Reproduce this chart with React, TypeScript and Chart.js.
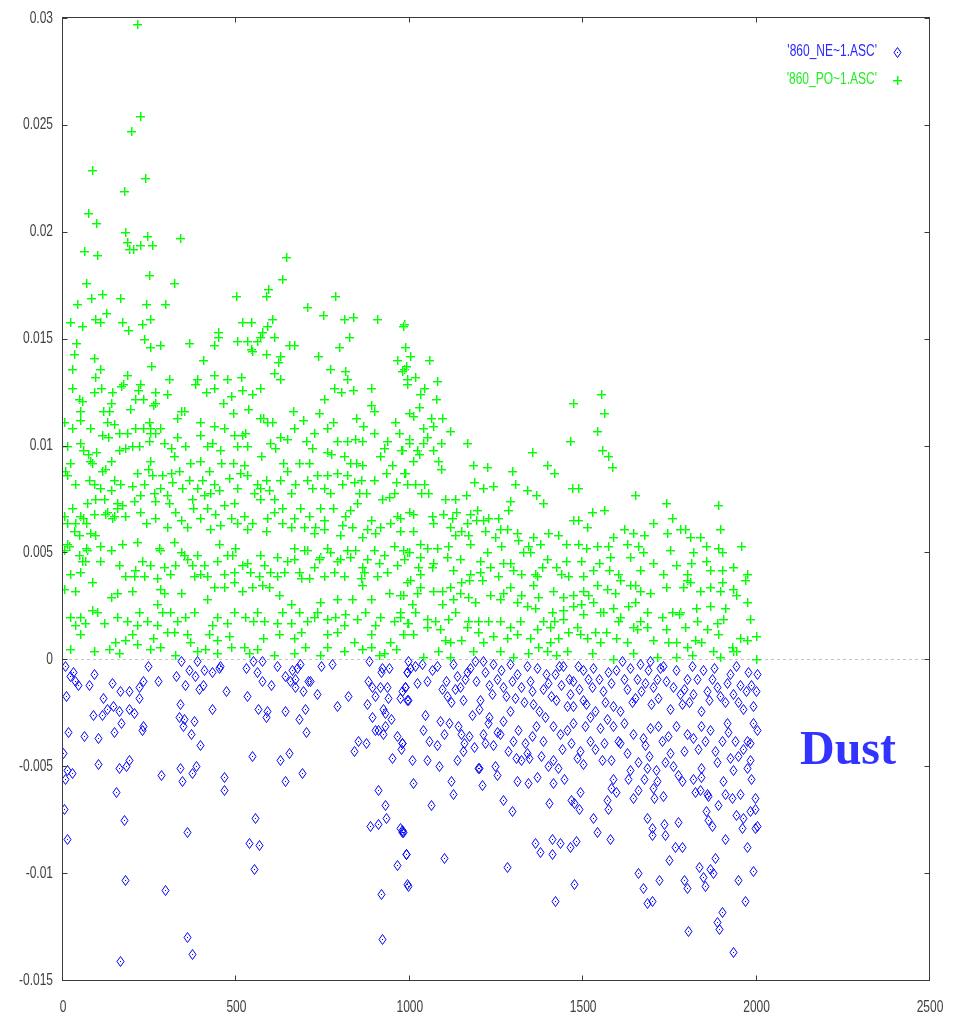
import React, { useEffect, useRef } from "react";
import { Chart, registerables } from "chart.js";

Chart.register(...registerables);

const xTicks = [0, 500, 1000, 1500, 2000, 2500];
const yTicks = [-0.015, -0.01, -0.005, 0, 0.005, 0.01, 0.015, 0.02, 0.025, 0.03];
const seriesLabels = ["'860_NE~1.ASC'", "'860_PO~1.ASC'"];
const noteText = "Dust";

// Each pair is [x, value × 1000]
const posPoints: number[][] = [
  [212,29.7],[223,25.4],[196,24.7],[84,22.9],[175,21.9],[236,22.5],[73,20.9],[96,20.4],[178,20.0],[185,19.5],[241,19.8],[60,19.1],[98,18.9],[189,19.2],[202,19.2],[223,19.4],[258,19.4],[337,19.7],[248,18.0],[321,17.6],[66,17.6],[80,16.9],[41,16.6],[112,17.1],[124,16.2],[163,16.9],[240,16.6],[293,16.6],[169,15.8],[19,15.8],[56,15.6],[92,15.9],[108,15.8],[187,15.4],[228,15.7],[250,15.9],[235,15.0],[37,14.8],[252,14.6],[279,14.7],[362,14.8],[31,14.3],[88,14.1],[25,13.6],[108,13.6],[254,13.7],[92,13.2],[185,13.3],[403,14.0],[500,17.0],[584,17.0],[590,17.3],[644,18.8],[631,17.8],[783,17.0],[705,16.5],[749,16.1],[517,15.8],[542,15.8],[602,15.9],[811,15.9],[835,16.0],[904,15.9],[983,15.7],[447,15.3],[587,15.6],[574,15.3],[608,15.1],[825,15.1],[448,15.1],[502,14.9],[531,14.9],[558,14.9],[567,15.1],[652,14.7],[665,14.7],[796,14.6],[436,14.7],[542,14.5],[987,14.6],[586,14.3],[625,14.2],[735,14.2],[619,13.9],[607,13.4],[625,13.1],[769,13.6],[814,13.5],[820,13.1],[963,14.0],[983,13.6],[993,13.1],[544,14.4],[306,13.1],[172,12.9],[385,13.1],[472,13.1],[514,13.2],[435,13.3],[380,12.9],[110,12.7],[88,12.5],[26,12.7],[45,12.2],[141,12.5],[166,12.8],[215,12.6],[221,12.9],[232,12.2],[266,12.5],[300,12.4],[412,12.5],[436,12.7],[483,12.3],[516,12.6],[546,12.4],[569,12.7],[781,12.7],[803,12.5],[835,12.6],[887,12.7],[754,12.2],[889,11.9],[896,11.6],[50,11.6],[4,11.1],[50,11.2],[127,11.1],[134,11.6],[194,11.7],[209,12.2],[247,11.1],[259,11.9],[115,11.6],[348,11.6],[396,11.1],[461,12.0],[489,11.5],[517,10.5],[534,11.7],[577,11.3],[603,11.1],[663,11.6],[692,11.2],[737,11.5],[779,11.1],[845,11.3],[864,10.9],[956,11.1],[969,10.6],[997,11.5],[997,10.3],[569,11.3],[587,11.1],[435,10.9],[463,10.8],[492,10.5],[526,10.6],[185,10.6],[112,10.5],[130,10.4],[250,10.6],[266,10.6],[341,11.6],[329,11.3],
  [55,12.1],[137,12.0],[264,12.0],[231,10.8],[252,10.8],[248,10.2],
  [26,10.8],[11,10.0],[79,10.8],[146,11.0],[161,10.6],[209,10.8],[281,10.8],[290,10.1],[329,10.4],[353,10.0],[396,10.5],[415,10.0],[502,10.0],[531,10.0],[627,10.4],[665,10.8],[723,10.6],[761,10.8],[819,10.2],[862,10.2],[896,10.6],[935,10.2],
  [50,10.1],[59,9.8],[79,9.3],[96,9.7],[137,9.3],[161,9.8],[180,9.9],[199,10.0],[218,10.0],[252,9.3],[310,9.9],[319,9.5],[367,9.2],[394,9.3],[430,10.1],[452,9.8],[456,9.2],[489,9.2],[521,9.1],[572,9.5],[598,10.1],[612,9.9],[635,9.2],[646,10.3],[680,9.2],[702,10.2],[718,9.9],[709,9.2],[761,9.7],[773,9.6],[790,10.2],[811,9.5],[829,9.2],[846,9.2],[843,10.3],[863,9.1],[927,9.9],[915,9.5],[975,9.8],[71,9.6],[85,9.2],
  [7,8.8],[12,8.6],[74,8.4],[122,8.9],[146,8.4],[165,8.2],[199,8.1],[244,8.9],[286,8.6],[310,8.7],[343,8.0],[372,7.5],[401,8.4],[420,8.8],[435,8.2],[478,8.5],[511,8.7],[550,7.8],[560,8.2],[584,8.4],[608,7.5],[646,8.8],[670,8.2],[718,8.0],[733,8.6],[761,8.6],[771,7.8],[790,8.7],[819,8.6],[838,8.3],[858,8.4],[875,7.8],[930,8.7],[949,9.1],[959,8.3],[983,8.7],
  [21,9.2],[35,8.2],[88,8.2],[108,8.0],[112,8.8],[137,7.9],[213,8.7],[233,8.2],[257,8.6],[281,8.0],[314,8.3],[334,8.8],[362,8.4],[386,8.0],[425,7.8],[449,7.9],[502,8.0],[531,8.6],[569,8.0],[593,7.9],[627,8.4],[656,7.8],[704,8.4],[752,8.0],[805,8.2],[853,7.8],[896,8.4],[954,7.8],[992,8.2],
  [26,7.1],[50,6.7],[59,6.6],[11,6.4],[35,6.4],[93,7.5],[117,7.5],[127,6.9],[141,6.6],[156,7.1],[204,7.4],[223,7.7],[262,7.8],[266,7.4],[300,7.7],[305,7.3],[375,7.1],[406,7.7],[415,7.1],[439,6.8],[463,7.2],[492,7.3],[502,6.4],[521,6.7],[545,6.4],[569,7.5],[589,6.6],[608,6.9],[632,7.1],[656,6.2],[684,7.1],[709,6.7],[728,6.2],[742,7.1],[754,6.5],[779,7.1],[805,6.3],[814,6.7],[829,7.0],[848,7.3],[863,5.7],[887,6.5],[901,5.9],[920,7.5],[940,7.6],[963,6.7],[997,6.9],
  [156,7.3],[146,6.7],[170,7.2],[122,6.8],[88,6.8],[69,7.3],[2,6.7],[67,6.4],[180,6.7],[223,6.9],[238,6.4],[266,6.6],[300,6.2],[324,6.9],[339,6.5],[358,6.2],[396,6.6],[425,6.1],[454,6.3],[483,6.6],[531,6.1],[584,6.0],[632,6.4],[665,6.6],[694,6.2],[723,5.9],[752,6.1],[800,5.8],[834,6.2],[877,6.1],[915,6.2],[944,6.4],[973,6.0],
  [2,5.1],[16,5.3],[45,4.9],[69,5.1],[64,4.6],[108,5.3],[137,5.1],[170,5.4],[213,5.5],[281,5.1],[319,5.5],[339,5.0],[358,4.7],[386,4.9],[406,4.4],[449,5.4],[473,4.9],[497,5.2],[531,4.5],[579,4.4],[617,4.8],[646,4.6],[665,5.2],[704,5.1],[742,4.8],[771,5.0],[790,4.6],[829,4.8],[863,4.3],[896,5.1],[925,4.9],[954,5.3],[992,5.0],
  [11,5.4],[31,6.0],[45,5.8],[79,5.9],[93,5.8],[55,4.6],[50,4.1],[66,5.2],[108,4.6],[161,4.4],[180,3.9],[209,4.2],[228,4.6],[252,4.4],[276,5.2],[290,4.3],[309,4.0],[324,4.4],[348,4.9],[372,4.4],[396,4.0],[415,3.9],[444,4.6],[463,4.0],[488,4.9],[492,4.1],[516,4.4],[540,4.1],[564,3.9],[569,4.9],[598,4.1],[617,3.9],[637,4.1],[665,4.7],[680,4.1],[694,5.1],[723,4.3],[737,4.7],[761,5.2],[781,4.1],[800,4.7],[819,5.1],[843,5.1],[858,3.8],[877,4.7],[910,4.5],[935,4.1],[963,4.4],[983,4.7],
  [2,3.3],[35,3.2],[21,4.0],[83,3.6],[137,2.9],[156,3.1],[199,3.2],[204,3.9],[233,3.9],[271,3.8],[281,3.3],[290,3.1],[271,2.6],[339,3.1],[377,3.9],[415,2.8],[435,3.4],[463,3.4],[492,3.6],[516,3.2],[545,3.4],[574,3.5],[593,3.4],[622,3.0],[656,2.6],[685,3.8],[709,3.8],[742,2.7],[752,3.9],[790,2.8],[810,3.9],[834,2.8],[863,3.5],[867,4.1],[887,2.8],[906,3.9],[940,3.1],[973,3.0],[992,3.6],
  [19,2.0],[35,1.6],[64,1.7],[84,2.3],[117,1.7],[50,1.2],[19,0.5],[132,0.5],[151,0.8],[180,0.9],[185,1.8],[213,1.6],[199,1.2],[260,1.0],[271,1.6],[300,1.3],[329,1.8],[319,1.3],[358,1.2],[367,0.8],[324,0.2],[386,0.4],[410,0.5],[420,1.2],[430,1.6],[444,0.3],[473,1.7],[478,1.1],[483,0.6],[536,0.3],[548,1.8],[577,1.0],[608,0.2],[622,1.2],[632,2.2],[656,1.7],[665,1.0],[685,1.3],[699,0.6],[704,1.8],[733,2.2],[760,1.2],[742,0.2],[790,1.3],[814,2.1],[838,0.8],[863,0.5],[872,2.2],[887,1.2],[901,1.6],[910,0.2],[944,0.8],[959,0.5],[973,2.0],[983,1.2],[992,1.7],
  [50,2.0],[98,2.2],[156,2.0],[218,2.2],[242,1.8],[286,2.2],[309,2.2],[353,2.0],[377,2.2],[444,2.0],[492,2.2],[526,2.0],[560,2.2],[579,1.8],[617,1.7],[680,2.2],[723,2.0],[761,1.9],[785,2.0],[810,1.6],[848,1.9],[915,2.0],[954,1.8],[88,0.4],[161,0.3],[213,0.7],[252,0.5],[281,0.6],[444,0.9],[521,0.6],[560,0.5],[665,0.3],[761,0.6],[810,0.4],[887,0.6],[925,0.3],
  [981,15.6],[986,14.6],[1002,14.2],[989,13.7],[977,13.5],[1055,14.0],[1015,13.2],[993,12.9],[1077,13.0],[1041,12.7],[1029,12.4],[1075,12.2],[1027,11.8],[1008,11.4],[1061,11.3],[1092,11.3],[1037,10.8],[1068,10.9],[1116,10.7],[1050,10.4],[999,10.1],[1039,10.1],[1089,10.1],[1164,10.1],[1022,9.8],[1066,9.8],[977,9.8],[1027,9.6],[1010,9.3],[1082,9.3],[1089,8.9],[986,8.7],[1181,9.1],[1224,9.0],[1294,8.8],[1351,9.7],[1396,9.1],[1416,8.7],[1462,10.2],[1471,12.0],[1550,12.4],[1560,11.5],[1541,10.7],[1553,9.8],[1572,9.5],[1584,9.0],
  [1015,8.2],[1041,8.2],[1053,7.8],[1031,7.8],[1185,8.3],[1212,8.0],[1239,8.1],[1303,8.2],[1337,7.9],[1364,7.7],[1383,7.3],[1467,8.0],[1484,8.0],[1649,7.7],[1101,7.5],[1130,7.5],[1161,7.7],[1289,7.4],[1284,7.0],[1524,6.9],[1560,7.0],[1738,7.3],[1889,7.2],[1097,6.8],[1010,6.8],[1063,6.7],[1121,6.6],[1133,6.9],[1174,6.8],[1193,7.0],[1226,6.6],[1255,6.6],[1191,6.5],[1068,6.4],[1471,6.5],[1484,6.5],[1755,6.6],
  [1149,6.0],[1130,5.8],[1169,5.8],[1217,6.0],[1246,5.7],[1279,6.1],[1010,6.0],[972,6.6],[1428,5.8],[1617,6.1],[1676,5.8],[1741,5.9],[1793,6.1],[1808,5.7],[981,5.1],[1029,5.4],[1049,5.2],[999,5.0],[1079,5.2],[1109,5.3],[1174,5.4],[1263,5.3],[1313,5.6],[1340,5.3],[1346,5.0],[1375,5.4],[1449,5.4],[1484,5.4],[1507,5.2],[1539,5.3],[1572,5.3],[1625,5.4],[1659,5.3],[1671,5.0],[1750,5.1],[1817,5.0],[1853,5.3],[1888,5.2],[1901,5.0],[1954,5.3],
  [1116,6.2],[1212,6.5],[1164,6.4],[1260,6.1],[1308,5.9],[1356,5.7],[1399,5.9],[1510,6.2],[1587,5.7],[1644,5.9],[1702,6.4],[1779,6.1],[1837,5.7],[1894,6.1],
  [1029,4.8],[1145,4.7],[1202,4.6],[1270,4.5],[1325,5.0],[1449,4.6],[1495,4.6],[1546,4.5],[1577,4.8],[1635,4.8],[1769,4.4],[1810,4.5],[1853,4.6],[1025,4.3],[1063,4.3],[1125,4.2],[1202,4.1],[1174,4.0],[1231,4.3],[1298,4.2],[1322,4.0],[1361,4.0],[1380,4.3],[1435,4.0],[1457,3.9],[1500,3.9],[1575,4.2],[1601,4.0],[1899,4.2],[1798,4.0],
  [1068,4.5],[1106,4.8],[1222,5.0],[1289,4.5],[1395,4.7],[1423,4.3],[1529,4.2],[1664,4.2],[1702,4.5],[1731,4.0],[1865,4.2],[1933,4.3],[1971,4.0],[1029,3.4],[1068,3.2],[1116,3.4],[1289,3.4],[1356,3.5],[1414,3.2],[1539,3.5],[1568,3.3],[1664,3.2],[1894,3.2],[1933,3.3],
  [1001,3.7],[1029,4.0],[1149,3.6],[1172,3.7],[1207,3.7],[1255,3.9],[1366,3.9],[1606,3.7],[1635,3.5],[1649,3.5],[1800,3.7],[1808,3.6],[1899,3.6],[1966,3.7],[981,3.0],[1020,3.1],[1092,3.2],[1092,2.6],[1145,3.1],[1169,2.9],[1231,3.0],[1270,3.1],[1322,3.0],[1371,2.9],[1441,2.9],[1471,3.0],[1498,3.2],[1515,3.0],[1592,3.1],[1694,3.1],[1738,3.4],[1789,3.4],[1838,3.2],[1865,3.4],[1942,3.0],[1973,2.7],
  [1005,2.6],[1125,2.8],[1188,2.7],[1260,2.8],[1308,2.7],[1337,2.5],[1361,2.4],[1409,2.2],[1441,2.3],[1471,2.5],[1495,2.6],[1529,2.7],[1548,2.2],[1587,2.4],[1606,2.0],[1630,2.5],[1649,2.7],[1685,2.2],[1726,2.0],[1755,2.2],[1779,2.2],[1825,2.4],[1867,2.5],[1909,2.4],[972,2.2],[996,1.7],[1015,2.2],[1049,1.9],[1073,1.8],[1111,1.9],[1130,2.2],[1169,1.8],[1197,1.8],[1226,1.8],[1260,1.8],[1318,1.8],[1385,1.8],[1416,1.8],[1443,1.9],[1500,2.1],[1558,2.2],[1601,1.8],[1664,1.8],[1683,1.5],[1777,2.1],[1827,1.8],[1885,1.7],[1904,1.9],[1981,1.9],
  [981,1.2],[1049,1.5],[1101,0.9],[1116,0.8],[1149,0.9],[1197,1.3],[1241,1.1],[1279,1.0],[1308,1.2],[1366,1.4],[1371,0.6],[1404,1.5],[1428,1.0],[1457,1.3],[1490,1.2],[1510,1.0],[1534,1.3],[1566,1.3],[1596,1.0],[1625,0.8],[1656,1.4],[1740,1.4],[1745,0.8],[1769,0.8],[1793,1.5],[1822,0.9],[1856,1.4],[1889,1.2],[1928,0.6],[1952,1.0],[1998,1.1],[1039,0.1],[1082,0.4],[1183,0.4],[1260,0.4],[1342,0.3],[1395,0.4],[1452,0.4],[1524,0.3],[1587,0.0],[1712,0.1],[1813,0.2],[1875,0.4],[1933,0.4],[1998,0.0],
  [1010,1.2],[1087,1.4],[1164,1.5],[1212,0.8],[1289,1.5],[1346,1.0],[1404,0.8],[1481,1.5],[1548,0.8],[1644,1.5],[1702,0.9],[1798,0.6],[1841,0.8],[1971,0.9],[1942,0.4],[1116,0.1],[1298,0.1],[1423,0.2],[1644,0.3],[1769,0.1],[1894,0.1]
];

// Each pair is [x, value × 1000]
const negPoints: number[][] = [
  [6,-0.3],[30,-0.6],[20,-0.8],[35,-1.0],[44,-1.2],[76,-1.2],[89,-0.7],[9,-1.7],[140,-1.1],[164,-1.5],[191,-1.5],[220,-1.3],[232,-1.0],[246,-0.3],[220,-1.8],[275,-1.0],[114,-1.8],[126,-2.3],[145,-2.2],[162,-2.4],[87,-2.6],[113,-2.6],[167,-3.0],[147,-3.4],[191,-2.3],[205,-2.5],[232,-3.1],[227,-3.3],[15,-3.4],[61,-3.6],[102,-3.7],[1,-4.4],
  [325,-0.8],[339,-0.1],[353,-1.2],[364,-0.5],[380,-0.8],[385,-0.1],[393,-1.4],[407,-0.5],[405,-1.2],[429,-0.6],[453,-0.3],[451,-0.4],[469,-1.5],[429,-2.3],[336,-2.1],[334,-2.7],[349,-2.8],[379,-2.9],[345,-3.1],[368,-3.5],[395,-4.0],
  [527,-0.4],[547,-0.1],[558,-0.6],[573,-0.1],[573,-1.0],[599,-1.2],[616,-0.3],[532,-1.7],[563,-2.3],[589,-2.4],[585,-2.7],[639,-2.4],[640,-0.8],[655,-1.0],[659,-0.5],[669,-0.9],[683,-0.2],[675,-0.4],[669,-1.3],[691,-1.5],[712,-1.0],[707,-1.0],[731,-1.6],[743,-0.3],[775,-0.2],[681,-2.8],[698,-2.3],[702,-3.4],[789,-2.2],[822,-1.7],
  [544,-4.5],[626,-4.7],[652,-4.4],[688,-5.3],[640,-5.7],[283,-5.4],[337,-5.1],[342,-5.7],[371,-5.3],[383,-5.0],[465,-5.5],[465,-6.1],[162,-5.1],[182,-5.0],[190,-4.7],[101,-4.9],[11,-5.2],[25,-5.3],[6,-5.6],[153,-6.2],[3,-7.0],[176,-7.5],[12,-8.4],[357,-8.1],[537,-8.6],[566,-8.7],[554,-7.4],[551,-9.8],[179,-10.3],[294,-10.8],[358,-13.0],[372,-13.8],[164,-14.1],
  [876,-2.1],[880,-1.0],[890,-1.3],[900,-1.7],[914,-1.3],[916,-0.6],[919,-0.4],[941,-0.4],[883,-0.1],[935,-1.3],[938,-1.8],[924,-2.3],[928,-2.5],[947,-2.8],[890,-2.7],[899,-3.3],[909,-3.3],[924,-3.5],[928,-3.1],[972,-1.8],[986,-1.3],[996,-1.9],[991,-0.6],[996,-0.1],[962,-3.6],[977,-3.9],[974,-4.2],[950,-4.6],[852,-3.8],[873,-3.9],[839,-4.3],[909,-6.1],[928,-6.8],[931,-7.4],[909,-7.7],[885,-7.8],[972,-7.9],[977,-8.1],[989,-9.1],[962,-9.6],[993,-10.5],[917,-11.0],[921,-13.1],
  [1001,-0.4],[1015,-0.3],[991,-0.6],[986,-1.3],[977,-1.5],[991,-1.9],[1063,-0.5],[1049,-1.0],[1104,-1.0],[1164,-0.6],[1173,-0.4],[1188,-0.1],[1212,-0.1],[1145,-1.3],[1130,-1.4],[1106,-1.7],[1118,-2.0],[1152,-1.9],[1178,-2.6],[1202,-1.9],[1200,-2.3],[1217,-0.6],[1241,-0.2],[1250,-0.9],[1270,-1.3],[1277,-1.7],[1289,-0.2],[1289,-2.4],[1310,-0.7],[1322,-1.3],[1329,-2.0],[1347,-1.0],[1356,-2.1],[1366,-0.4],[1385,-1.4],[1399,-1.1],[1419,-0.7],[1431,-0.3],[1443,-0.3],[1423,-1.9],[1452,-2.2],[1471,-1.0],[1471,-2.2],[1498,-0.5],[1500,-1.9],[1515,-0.9],[1524,-1.3],[1534,-2.4],[1519,-2.7],[1558,-1.5],[1572,-0.6],[1587,-2.2],[1606,-2.4],[1611,-0.1],[1635,-0.4],[1625,-1.4],[1649,-1.8],[1664,-0.2],[1678,-1.1],[1692,-0.1],[1702,-1.3],[1716,-1.8],[1712,-0.9],[1731,-0.3],[1750,-2.3],[1760,-1.3],[1784,-2.1],[1798,-0.9],[1813,-0.3],[1817,-1.6],[1841,-2.4],[1856,-1.5],[1870,-0.9],[1885,-1.3],[1909,-2.0],[1923,-0.7],[1933,-1.6],[1952,-1.2],[1961,-2.3],[1976,-0.6],[1990,-2.2],[2002,-0.7],[1985,-1.2],
  [1020,-1.1],[1035,-0.2],[1078,-0.3],[1093,-1.4],[1126,-0.2],[1137,-0.8],[1158,-0.9],[1192,-1.0],[1229,-1.2],[1236,-1.6],[1262,-0.5],[1296,-1.0],[1302,-1.8],[1338,-0.3],[1352,-1.5],[1372,-2.4],[1392,-0.7],[1408,-1.7],[1436,-1.2],[1459,-0.9],[1462,-1.6],[1484,-0.3],[1489,-1.4],[1508,-2.1],[1529,-0.4],[1546,-0.9],[1562,-2.0],[1581,-1.1],[1594,-0.5],[1617,-0.9],[1640,-2.0],[1655,-0.9],[1668,-1.5],[1686,-0.5],[1696,-2.1],[1722,-0.4],[1740,-1.0],[1768,-0.5],[1778,-1.6],[1792,-1.4],[1806,-2.0],[1827,-0.9],[1845,-0.5],[1863,-1.9],[1878,-0.4],[1894,-1.7],[1915,-1.1],[1940,-0.3],[1945,-2.0],[1969,-1.5],[1997,-1.5],
  [1039,-3.3],[1056,-3.8],[1077,-4.0],[1087,-2.9],[1114,-3.0],[1140,-3.1],[1149,-3.5],[1156,-3.9],[1152,-4.3],[1135,-4.7],[1085,-5.0],[1051,-4.7],[1006,-4.7],[977,-3.9],[1212,-3.5],[1226,-3.0],[1229,-2.7],[1250,-3.4],[1260,-3.5],[1217,-3.9],[1246,-5.0],[1197,-5.1],[1250,-5.4],[1298,-3.8],[1313,-3.3],[1332,-3.9],[1337,-4.4],[1345,-4.6],[1322,-4.7],[1284,-4.3],[1364,-3.1],[1390,-2.7],[1412,-3.1],[1385,-3.8],[1399,-5.0],[1412,-4.7],[1428,-5.1],[1444,-5.6],[1414,-5.8],[1366,-5.5],[1342,-5.8],[1308,-5.7],
  [1045,-2.6],[1098,-3.5],[1172,-3.6],[1186,-4.1],[1240,-4.0],[1268,-2.9],[1305,-4.6],[1352,-3.6],[1378,-4.5],[1432,-3.5],[1440,-4.2],[1472,-3.0],[1500,-4.9],[1560,-3.9],[1570,-2.8],[1625,-4.4],[1645,-3.5],[1690,-4.5],[1693,-3.2],[1750,-4.4],[1790,-4.3],[1830,-4.2],[1852,-3.8],[1880,-4.3],[1915,-3.0],[1960,-4.2],[1990,-3.0],
  [1452,-3.3],[1464,-3.9],[1481,-4.6],[1490,-4.3],[1505,-3.1],[1519,-3.8],[1534,-4.2],[1548,-3.2],[1553,-4.7],[1579,-4.7],[1587,-3.1],[1601,-3.8],[1618,-3.0],[1606,-3.9],[1587,-5.6],[1595,-6.2],[1579,-6.0],[1630,-5.6],[1644,-6.5],[1657,-6.1],[1635,-5.2],[1659,-4.8],[1683,-5.1],[1675,-5.6],[1710,-5.2],[1736,-4.8],[1758,-5.0],[1774,-5.4],[1784,-5.7],[1712,-5.7],[1702,-6.0],[1704,-6.5],[1731,-6.4],[1673,-3.7],[1678,-4.0],[1726,-3.8],[1745,-3.6],[1716,-3.1],[1769,-3.1],[1800,-3.5],[1817,-3.7],[1841,-3.1],[1865,-3.3],[1899,-3.8],[1918,-3.4],[1938,-3.8],[1971,-3.8],[1981,-3.9],[2000,-3.3],
  [1947,-4.5],[1981,-4.7],[1971,-5.1],[1985,-5.6],[1923,-4.6],[1933,-5.2],[1904,-5.7],[1885,-4.8],[1841,-5.1],[1817,-5.6],[1841,-5.5],[1837,-6.1],[1856,-6.3],[1861,-6.4],[1822,-6.2],[1889,-6.8],[1909,-6.3],[1928,-6.5],[1952,-6.3],[1995,-6.5],[1995,-7.0],[1981,-7.1],[1961,-7.4],[1942,-7.3],[1957,-7.9],[2000,-7.8],[1995,-7.9],[1909,-8.4],[1971,-8.8],[1990,-9.9],[1947,-10.3],[1966,-11.3],[1899,-11.8],[1885,-12.3],[1892,-12.6],[1933,-13.7],[1803,-12.7],[1851,-10.6],[1846,-10.2],[1873,-10.0],[1865,-9.8],[1834,-9.7],[1790,-10.3],[1800,-10.7],[1880,-9.3],[1854,-7.1],[1861,-7.5],[1870,-7.8],[1774,-7.6],[1786,-8.8],[1764,-8.8],[1748,-9.4],[1734,-7.7],[1736,-8.2],[1697,-7.9],[1699,-8.2],[1685,-7.4],[1659,-10.0],[1673,-10.7],[1683,-11.4],[1699,-11.3],[1718,-10.3],
  [1568,-6.6],[1572,-7.0],[1527,-7.4],[1539,-8.1],[1577,-8.4],[1490,-6.2],[1489,-7.0],[1473,-6.7],[1466,-6.6],[1402,-6.7],[1294,-7.1],[1270,-6.6],[1209,-5.9],[1199,-5.1],[1125,-6.3],[1118,-5.7],[1008,-5.8],[1060,-6.8],[1099,-9.3],[1281,-9.7],[1361,-8.6],[1375,-9.0],[1409,-8.4],[1409,-9.1],[1433,-8.6],[1462,-8.8],[1479,-8.5],[1474,-10.5],[1419,-11.3],[989,-9.1],[996,-10.6],[977,-8.0],[981,-8.1]
];

const BLUE = "#0000ff";
const GREEN = "#00ff00";
const GREEN_SOFT = "#8cff8c";

// Open diamond with a dot in the middle, slightly taller than wide
function diamondMarker(color: string): HTMLCanvasElement {
  const c = document.createElement("canvas");
  c.width = 10;
  c.height = 12;
  const g = c.getContext("2d")!;
  g.strokeStyle = color;
  g.lineWidth = 1;
  g.beginPath();
  g.moveTo(5.5, 1.5);
  g.lineTo(9, 6.5);
  g.lineTo(5.5, 11.5);
  g.lineTo(2, 6.5);
  g.closePath();
  g.stroke();
  g.fillStyle = color;
  g.fillRect(5, 6, 1, 1);
  return c;
}

// Plus sign marker: a solid stroke with a softer edge beside it
function plusMarker(color: string, soft: string): HTMLCanvasElement {
  const c = document.createElement("canvas");
  c.width = 10;
  c.height = 12;
  const g = c.getContext("2d")!;
  g.fillStyle = soft;
  g.fillRect(1, 7, 9, 1);
  g.fillRect(6, 2, 1, 9);
  g.fillStyle = color;
  g.fillRect(1, 6, 9, 1);
  g.fillRect(5, 2, 1, 9);
  return c;
}

function fmtY(v: number): string {
  return String(Number(v.toFixed(3)));
}

// Text drawn with a slight vertical stretch, like the plotter's fonts
function tallText(ctx: CanvasRenderingContext2D, text: string, x: number, y: number, align: CanvasTextAlign, sy: number) {
  ctx.save();
  ctx.translate(x, y);
  ctx.scale(1, sy);
  ctx.textAlign = align;
  ctx.textBaseline = "middle";
  ctx.fillText(text, 0, 0);
  ctx.restore();
}

export default function App() {
  const ref = useRef<HTMLCanvasElement | null>(null);

  useEffect(() => {
    if (!ref.current) return;
    const diamond = diamondMarker(BLUE);
    const plus = plusMarker(GREEN, GREEN_SOFT);

    const framePlugin = {
      id: "gnuFrame",
      beforeDatasetsDraw(chart: any) {
        const { ctx, chartArea: a, scales } = chart;
        const y0 = Math.round(scales.y.getPixelForValue(0)) + 0.5;
        ctx.save();
        ctx.strokeStyle = "#c4c4c4";
        ctx.lineWidth = 1;
        ctx.setLineDash([3, 3]);
        ctx.beginPath();
        ctx.moveTo(a.left, y0);
        ctx.lineTo(a.right, y0);
        ctx.stroke();
        ctx.restore();
      },
      beforeDatasetDraw(chart: any, args: any) {
        // snap markers to whole pixels so the strokes stay crisp
        args.meta.data.forEach((el: any) => {
          el.x = Math.round(el.x);
          el.y = Math.round(el.y);
        });
      },
      afterDraw(chart: any) {
        const { ctx, chartArea: a, scales } = chart;
        const xs = scales.x;
        const ys = scales.y;
        ctx.save();
        // frame
        ctx.strokeStyle = "#3a3a3a";
        ctx.lineWidth = 1;
        const L = Math.round(a.left) - 0.5;
        const R = Math.round(a.right) - 0.5;
        const T = Math.round(a.top) - 0.5;
        const B = Math.round(a.bottom) + 0.5;
        ctx.strokeRect(L, T, R - L, B - T);
        // inward tick marks
        ctx.beginPath();
        const tl = 5;
        ys.ticks.forEach((t: any) => {
          const p = Math.round(ys.getPixelForValue(t.value)) + 0.5;
          ctx.moveTo(L, p);
          ctx.lineTo(L + tl, p);
          ctx.moveTo(R, p);
          ctx.lineTo(R - tl, p);
        });
        xs.ticks.forEach((t: any) => {
          const p = Math.round(xs.getPixelForValue(t.value)) - 0.5;
          ctx.moveTo(p, B);
          ctx.lineTo(p, B - tl);
          ctx.moveTo(p, T);
          ctx.lineTo(p, T + tl);
        });
        ctx.stroke();
        // tick labels
        ctx.fillStyle = "#404040";
        ctx.font = '12px "Liberation Sans", Arial, sans-serif';
        ys.ticks.forEach((t: any) => {
          tallText(ctx, fmtY(t.value), a.left - 10, ys.getPixelForValue(t.value), "right", 1.38);
        });
        xs.ticks.forEach((t: any) => {
          tallText(ctx, String(t.value), xs.getPixelForValue(t.value), a.bottom + 27, "center", 1.38);
        });
        // key
        ctx.font = '12px "Liberation Sans", Arial, sans-serif';
        ctx.fillStyle = "#2a2aff";
        tallText(ctx, seriesLabels[0], 877, 52, "right", 1.3);
        ctx.fillStyle = "#22ee22";
        tallText(ctx, seriesLabels[1], 877, 80, "right", 1.3);
        ctx.drawImage(diamond, 897 - 5, 52 - 6);
        ctx.drawImage(plus, 897 - 5, 80 - 6);
        // annotation
        ctx.fillStyle = "#3333ff";
        ctx.font = 'bold 48px "Liberation Serif", "Times New Roman", serif';
        ctx.textAlign = "left";
        ctx.textBaseline = "alphabetic";
        ctx.fillText(noteText, 800, 764);
        ctx.restore();
      },
    };

    const chart = new Chart(ref.current, {
      type: "scatter",
      data: {
        datasets: [
          {
            label: seriesLabels[1],
            data: posPoints.map(([x, v]) => ({ x, y: v / 1000 })),
            pointStyle: plus as any,
            pointRadius: 4,
            borderColor: GREEN,
            backgroundColor: GREEN,
          },
          {
            label: seriesLabels[0],
            data: negPoints.map(([x, v]) => ({ x, y: v / 1000 })),
            pointStyle: diamond as any,
            pointRadius: 4,
            borderColor: BLUE,
            backgroundColor: BLUE,
          },
        ],
      },
      options: {
        responsive: false,
        animation: false,
        devicePixelRatio: 1,
        layout: { padding: { left: 63, right: 34, top: 18, bottom: 37 } },
        plugins: { legend: { display: false }, tooltip: { enabled: false } },
        events: [],
        scales: {
          x: {
            type: "linear",
            display: false,
            min: xTicks[0],
            max: xTicks[xTicks.length - 1],
            afterBuildTicks: (s: any) => {
              s.ticks = xTicks.map((value) => ({ value }));
            },
          },
          y: {
            type: "linear",
            display: false,
            min: yTicks[0],
            max: yTicks[yTicks.length - 1],
            afterBuildTicks: (s: any) => {
              s.ticks = yTicks.map((value) => ({ value }));
            },
          },
        },
      },
      plugins: [framePlugin],
    });
    return () => chart.destroy();
  }, []);

  return (
    <div style={{ position: "absolute", left: 0, top: 0, width: 964, height: 1017, background: "#fff" }}>
      <canvas ref={ref} width={964} height={1017} style={{ display: "block" }} />
    </div>
  );
}
